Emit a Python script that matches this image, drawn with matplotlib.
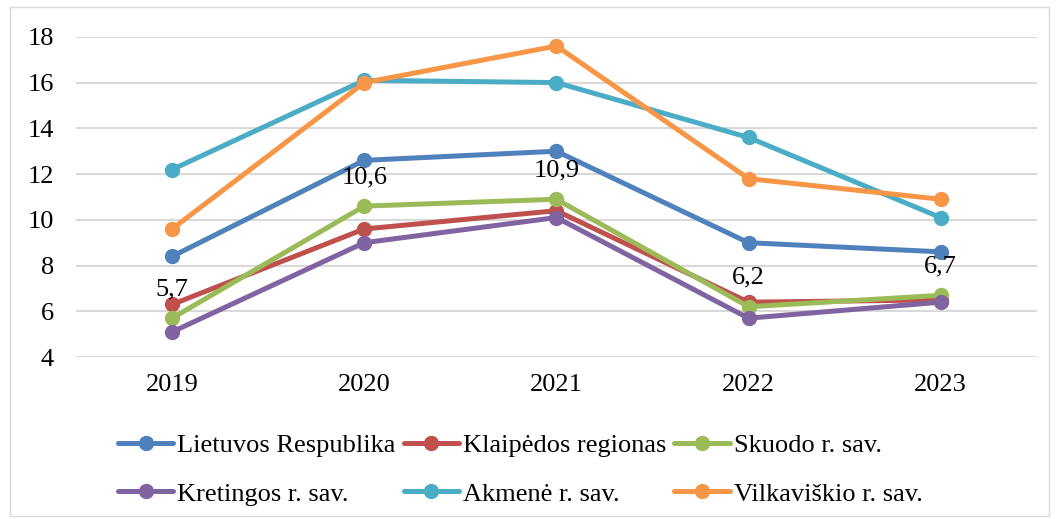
import matplotlib
matplotlib.use("Agg")
import matplotlib.pyplot as plt
from matplotlib.patches import Rectangle

years = ["2019", "2020", "2021", "2022", "2023"]
lietuvos = [8.4, 12.6, 13.0, 9.0, 8.6]
klaipedos = [6.3, 9.6, 10.4, 6.4, 6.5]
skuodo = [5.7, 10.6, 10.9, 6.2, 6.7]
kretingos = [5.1, 9.0, 10.1, 5.7, 6.4]
akmene = [12.2, 16.1, 16.0, 13.6, 10.1]
vilkaviskio = [9.6, 16.0, 17.6, 11.8, 10.9]

series = [
    ("Lietuvos Respublika", lietuvos, "#4F81BD"),
    ("Klaipėdos regionas", klaipedos, "#C0504D"),
    ("Skuodo r. sav.", skuodo, "#9BBB59"),
    ("Kretingos r. sav.", kretingos, "#8064A2"),
    ("Akmenė r. sav.", akmene, "#4BACC6"),
    ("Vilkaviškio r. sav.", vilkaviskio, "#F79646"),
]
labelled = "Skuodo r. sav."

plt.rcParams['font.family'] = ['Liberation Serif', 'DejaVu Serif']
FS = 19

fig = plt.figure(figsize=(10.59, 5.19), dpi=100)
fig.patches.append(Rectangle((0.009, 0.006), 0.982, 0.98, transform=fig.transFigure,
                             fill=False, edgecolor="#d9d9d9", linewidth=1.0))
ax = fig.add_axes([0.0718, 0.312, 0.9072, 0.617])

x = list(range(len(years)))
handles = []
for name, vals, col in series:
    h, = ax.plot(x, vals, color=col, linewidth=3.6, marker="o", markersize=10,
                 label=name, solid_capstyle="round", zorder=3)
    handles.append(h)
    if name == labelled:
        for xi, v in zip(x, vals):
            ax.annotate(f"{v:.1f}".replace(".", ","), (xi, v), xytext=(0, 13),
                        textcoords="offset points", ha="center", va="bottom",
                        fontsize=FS, color="black", zorder=5)

ax.set_xlim(-0.5, len(years) - 0.5)
ax.set_ylim(4, 18)
ax.set_yticks(range(4, 19, 2))
ax.set_xticks(x)
ax.set_xticklabels(years)
ax.tick_params(axis="both", length=0, labelsize=FS, colors="black")
ax.tick_params(axis="x", pad=12)
ax.tick_params(axis="y", pad=16)
ax.grid(axis="y", color="#d9d9d9", linewidth=1.5, zorder=0)
ax.set_axisbelow(True)
for s in ax.spines.values():
    s.set_visible(False)

order = [0, 3, 1, 4, 2, 5]
fig.legend([handles[i] for i in order], [series[i][0] for i in order],
           loc="lower left", bbox_to_anchor=(0.089, -0.02), ncol=3, frameon=False,
           fontsize=FS, handlelength=2.1, handletextpad=0.15, columnspacing=0.3,
           labelspacing=0.95)

fig.savefig("out.png", dpi=100)
